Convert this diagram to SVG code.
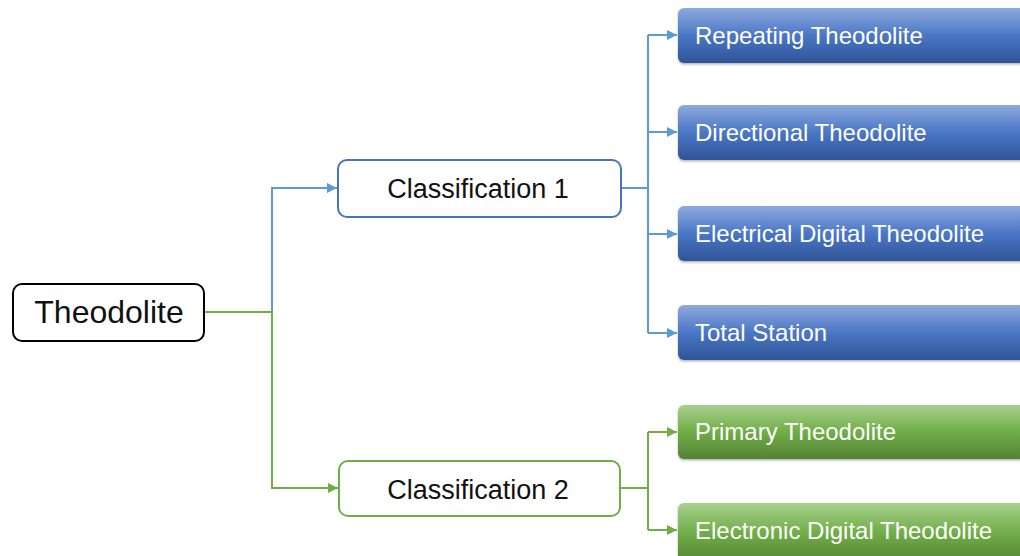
<svg xmlns="http://www.w3.org/2000/svg" width="1020" height="556" viewBox="0 0 1020 556">
<style>
.root{fill:#fff;stroke:#000;stroke-width:2}
.c1{fill:#fff;stroke:#4472c4;stroke-width:2}
.c2{fill:#fff;stroke:#70ad47;stroke-width:2}
.nt{font-family:"Liberation Sans",Arial,sans-serif;fill:#111;text-anchor:middle}
.bt{font-family:"Liberation Sans",Arial,sans-serif;fill:#fff;font-size:24px}
.blue{fill:url(#gb);filter:url(#sh)}
.green{fill:url(#gg);filter:url(#sh)}
.lb{fill:none;stroke:#5b9bd5;stroke-width:2}
.lg{fill:none;stroke:#70ad47;stroke-width:2}
</style>
<defs>
<linearGradient id="gb" x1="0" y1="0" x2="0" y2="1">
<stop offset="0" stop-color="#8eaadc"/>
<stop offset="0.5" stop-color="#4a76c6"/>
<stop offset="1" stop-color="#2f5597"/>
</linearGradient>
<linearGradient id="gg" x1="0" y1="0" x2="0" y2="1">
<stop offset="0" stop-color="#a9d18e"/>
<stop offset="0.5" stop-color="#70ad47"/>
<stop offset="1" stop-color="#548235"/>
</linearGradient>
<filter id="sh" x="-5%" y="-20%" width="110%" height="150%">
<feDropShadow dx="0" dy="1.5" stdDeviation="1.2" flood-color="#000" flood-opacity="0.3"/>
</filter>
<marker id="ab" viewBox="0 0 10 10" refX="10" refY="5" markerWidth="5" markerHeight="5" orient="auto">
<path d="M0,0 L10,5 L0,10 z" fill="#5b9bd5"/>
</marker>
<marker id="ag" viewBox="0 0 10 10" refX="10" refY="5" markerWidth="5" markerHeight="5" orient="auto">
<path d="M0,0 L10,5 L0,10 z" fill="#70ad47"/>
</marker>
</defs>
<rect width="1020" height="556" fill="#fff"/>
<g id="connectors">
<path class="lb" d="M272,312 V188 H337" marker-end="url(#ab)"/>
<path class="lg" d="M204,312 H272 V488 H338" marker-end="url(#ag)"/>
<path class="lb" d="M621,188 H648"/>
<path class="lb" d="M648,35 V333"/>
<path class="lb" d="M648,35 H677" marker-end="url(#ab)"/>
<path class="lb" d="M648,132 H677" marker-end="url(#ab)"/>
<path class="lb" d="M648,234 H677" marker-end="url(#ab)"/>
<path class="lb" d="M648,333 H677" marker-end="url(#ab)"/>
<path class="lg" d="M621,488 H648"/>
<path class="lg" d="M648,432 V530"/>
<path class="lg" d="M648,432 H677" marker-end="url(#ag)"/>
<path class="lg" d="M648,530 H677" marker-end="url(#ag)"/>
</g>
<g id="theodolite">
<rect class="root" x="13" y="284" width="191" height="57" rx="9"/>
<text class="nt" x="109" y="323" font-size="32">Theodolite</text>
</g>
<g id="classification1">
<rect class="c1" x="338" y="160" width="283" height="57" rx="9"/>
<text class="nt" x="478" y="198" font-size="27">Classification 1</text>
</g>
<g id="classification2">
<rect class="c2" x="339" y="461" width="281" height="55" rx="9"/>
<text class="nt" x="478" y="499" font-size="27">Classification 2</text>
</g>
<g id="repeating">
<rect class="blue" x="678" y="8" width="360" height="55" rx="6"/>
<text class="bt" x="695" y="44">Repeating Theodolite</text>
</g>
<g id="directional">
<rect class="blue" x="678" y="105" width="360" height="55" rx="6"/>
<text class="bt" x="695" y="141">Directional Theodolite</text>
</g>
<g id="electrical">
<rect class="blue" x="678" y="206" width="360" height="55" rx="6"/>
<text class="bt" x="695" y="242">Electrical Digital Theodolite</text>
</g>
<g id="totalstation">
<rect class="blue" x="678" y="305" width="360" height="55" rx="6"/>
<text class="bt" x="695" y="341">Total Station</text>
</g>
<g id="primary">
<rect class="green" x="678" y="405" width="360" height="54" rx="6"/>
<text class="bt" x="695" y="440">Primary Theodolite</text>
</g>
<g id="electronic">
<rect class="green" x="678" y="503" width="360" height="60" rx="6"/>
<text class="bt" x="695" y="539">Electronic Digital Theodolite</text>
</g>
</svg>
